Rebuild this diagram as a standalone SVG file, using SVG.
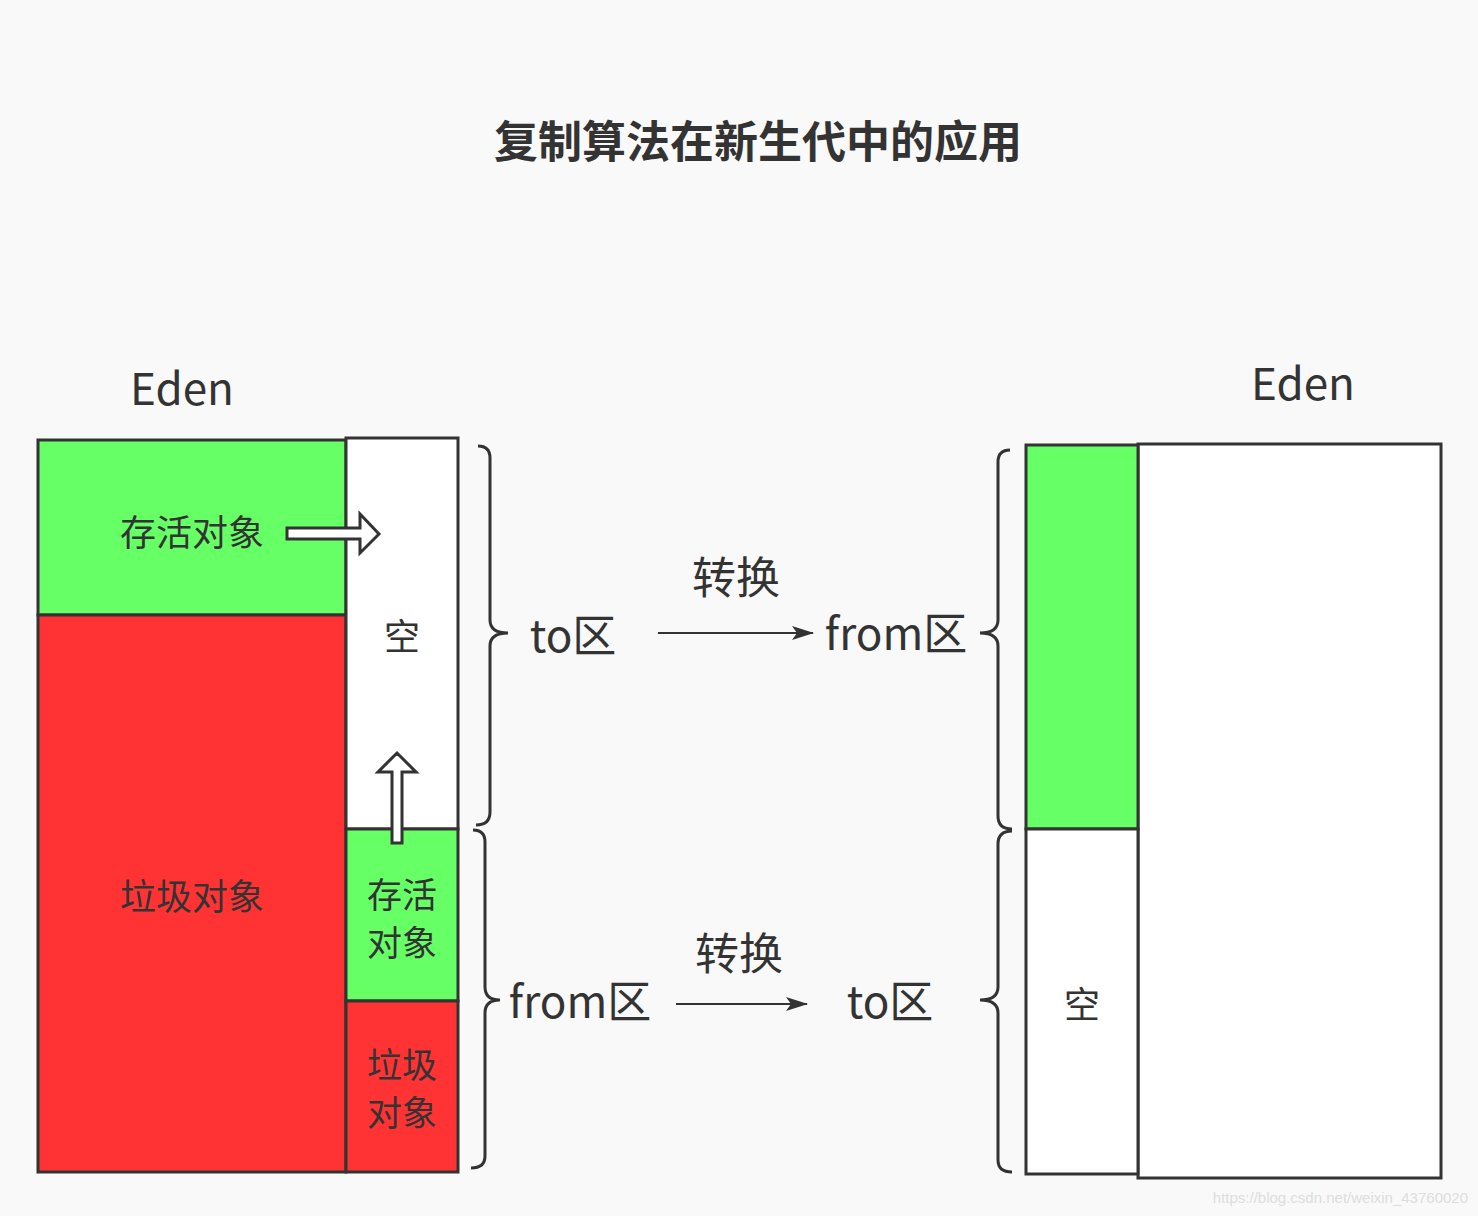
<svg xmlns="http://www.w3.org/2000/svg" width="1478" height="1216" viewBox="0 0 1478 1216">
<style>
.b{stroke:#333;stroke-width:3}
.g{fill:#66ff66}.r{fill:#ff3333}.w{fill:#fff}
.t{font-family:"Noto Sans CJK SC","Noto Sans",sans-serif;fill:#333}
.br{fill:none;stroke:#333;stroke-width:3}
</style>
<defs><marker id="ah" markerWidth="22" markerHeight="14" refX="21" refY="7" orient="auto" markerUnits="userSpaceOnUse"><path d="M0,0L22,7L0,14L5,7Z" fill="#333"/></marker></defs>
<rect width="1478" height="1216" fill="#f9f9f9"/>
<text class="t" x="758" y="158" font-size="44" font-weight="bold" text-anchor="middle">复制算法在新生代中的应用</text>
<g id="left">
<text class="t" x="182" y="405" font-size="44" text-anchor="middle">Eden</text>
<rect class="b g" x="38" y="440" width="308" height="175"/>
<rect class="b r" x="38" y="615" width="308" height="557"/>
<rect class="b w" x="346" y="438" width="112" height="391"/>
<rect class="b g" x="346" y="829" width="112" height="172"/>
<rect class="b r" x="346" y="1001" width="112" height="171"/>
<text class="t" x="192" y="546" font-size="36" text-anchor="middle">存活对象</text>
<text class="t" x="192" y="910" font-size="36" text-anchor="middle">垃圾对象</text>
<text class="t" x="402" y="650" font-size="36" text-anchor="middle">空</text>
<text class="t" x="402" y="908" font-size="35" text-anchor="middle">存活</text>
<text class="t" x="402" y="956" font-size="35" text-anchor="middle">对象</text>
<text class="t" x="402" y="1078" font-size="35" text-anchor="middle">垃圾</text>
<text class="t" x="402" y="1126" font-size="35" text-anchor="middle">对象</text>
<path class="b w" d="M287,528H360V514L379,534L360,553V539H287Z"/>
<path class="b w" d="M392,843V772H378L397,753L416,772H402V843Z"/>
</g>
<g id="right">
<text class="t" x="1303" y="400" font-size="44" text-anchor="middle">Eden</text>
<rect class="b w" x="1138" y="444" width="303" height="734"/>
<rect class="b g" x="1026" y="445" width="112" height="384"/>
<rect class="b w" x="1026" y="829" width="112" height="345"/>
<text class="t" x="1082" y="1018" font-size="36" text-anchor="middle">空</text>
</g>
<g id="braces">
<path class="br" d="M478,446Q490,446 490,458V620Q490,633 508,633Q490,633 490,646V812Q490,825 476,825"/>
<path class="br" d="M473,830Q485,830 485,842V987Q485,1000 500,1000Q485,1000 485,1013V1156Q485,1168 471,1168"/>
<path class="br" d="M1010,450Q998,450 998,462V620Q998,633 980,633Q998,633 998,646V816Q998,829 1012,829"/>
<path class="br" d="M1012,831Q998,831 998,844V987Q998,1000 980,1000Q998,1000 998,1013V1160Q998,1172 1012,1172"/>
</g>
<g id="labels">
<text class="t" x="573" y="652" font-size="44" text-anchor="middle">to区</text>
<text class="t" x="736" y="594" font-size="44" text-anchor="middle">转换</text>
<text class="t" x="896" y="650" font-size="44" text-anchor="middle">from区</text>
<text class="t" x="580" y="1018" font-size="44" text-anchor="middle">from区</text>
<text class="t" x="739" y="970" font-size="44" text-anchor="middle">转换</text>
<text class="t" x="890" y="1018" font-size="44" text-anchor="middle">to区</text>
</g>
<g id="connectors">
<line x1="658" y1="633" x2="813" y2="633" stroke="#333" stroke-width="2" marker-end="url(#ah)"/>
<line x1="676" y1="1004" x2="807" y2="1004" stroke="#333" stroke-width="2" marker-end="url(#ah)"/>
</g>
<text x="1468" y="1203" font-family="Liberation Sans,sans-serif" font-size="15" fill="#ddd" text-anchor="end">https://blog.csdn.net/weixin_43760020</text>
</svg>
